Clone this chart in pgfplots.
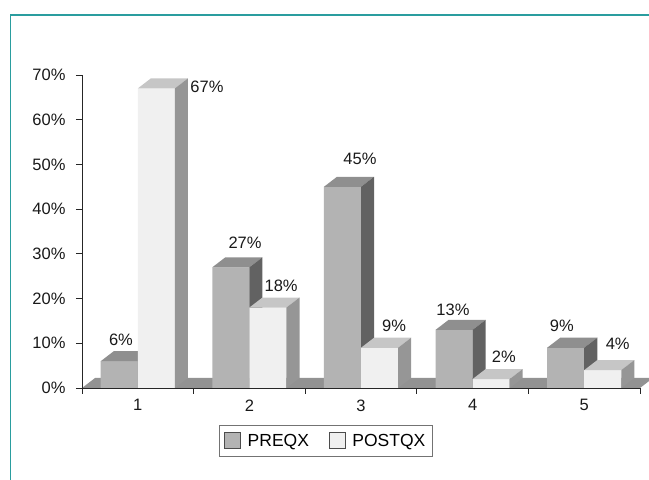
\documentclass[border=0pt]{standalone}
\usepackage{pgfplots}
\pgfplotsset{compat=1.18}
\usepackage{fontspec}
\setmainfont{Liberation Sans}
\definecolor{preFront}{HTML}{B3B3B3}
\definecolor{preTop}{HTML}{8F8F8F}
\definecolor{preSide}{HTML}{626262}
\definecolor{postFront}{HTML}{F0F0F0}
\definecolor{postTop}{HTML}{C6C6C6}
\definecolor{postSide}{HTML}{969696}
\definecolor{floorc}{HTML}{929292}
\definecolor{frame}{HTML}{2A9D9F}
\pgfplotsset{face/.style={forget plot, draw=none, mark=none}}
\newcommand{\lblfont}{\fontsize{16.5}{19}\selectfont}
\newcommand{\legfont}{\fontsize{17.5}{20}\selectfont}
\begin{document}
\begin{tikzpicture}
\useasboundingbox (0,0) rectangle (649pt,480pt);
\draw[frame, line width=1.5pt] (10.5pt,0) -- (10.5pt,465pt) -- (649pt,465pt);
\begin{axis}[
  at={(82pt,92pt)}, anchor=south west,
  scale only axis, width=558pt, height=313pt,
  xmin=-0.5, xmax=4.5, ymin=0, ymax=70,
  clip=false, axis on top=true,
  axis x line=bottom, axis y line=left,
  axis line style={-, black!85, line width=0.8pt},
  tick style={black!85, line width=0.8pt},
  tick align=outside, major tick length=6pt,
  xtick={-0.5,0.5,1.5,2.5,3.5,4.5},
  xticklabels={1,2,3,4,5},
  x tick label as interval,
  ytick={0,10,...,70},
  yticklabel={\pgfmathprintnumber{\tick}\%},
  /pgf/number format/assume math mode=true,
  tick label style={font=\lblfont, black!90},
  yticklabel style={xshift=-7pt},
  xticklabel style={yshift=-2pt},
  legend style={at={(axis description cs:0.437,-0.169)}, anchor=center,
    draw=black!55, line width=0.8pt, font=\legfont,
    inner xsep=5pt, inner ysep=7pt,
    /tikz/every even column/.append style={column sep=18pt}},
  legend columns=2,
]
% floor
\addplot[face, fill=floorc] coordinates {(-0.5,0) (4.5,0) (4.617,2.24) (-0.383,2.24)};

% PREQX
\addplot[ybar, bar width=0.332, bar shift=-0.166, fill=preFront, draw=none,
  legend image code/.code={\draw[fill=preFront, draw=black!70, line width=0.8pt] (0pt,-8pt) rectangle (16pt,8pt); \path (21pt,0pt);}]
  coordinates {(0,6) (1,27) (2,45) (3,13) (4,9)};
\addlegendentry{PREQX}
\addplot[face, fill=preTop] coordinates {(-0.332,6) (0,6) (0.117,8.24) (-0.215,8.24)};
\addplot[face, fill=preSide] coordinates {(0,0) (0.117,2.24) (0.117,8.24) (0,6)};
\addplot[face, fill=preTop] coordinates {(0.668,27) (1,27) (1.117,29.24) (0.785,29.24)};
\addplot[face, fill=preSide] coordinates {(1,0) (1.117,2.24) (1.117,29.24) (1,27)};
\addplot[face, fill=preTop] coordinates {(1.668,45) (2,45) (2.117,47.24) (1.785,47.24)};
\addplot[face, fill=preSide] coordinates {(2,0) (2.117,2.24) (2.117,47.24) (2,45)};
\addplot[face, fill=preTop] coordinates {(2.668,13) (3,13) (3.117,15.24) (2.785,15.24)};
\addplot[face, fill=preSide] coordinates {(3,0) (3.117,2.24) (3.117,15.24) (3,13)};
\addplot[face, fill=preTop] coordinates {(3.668,9) (4,9) (4.117,11.24) (3.785,11.24)};
\addplot[face, fill=preSide] coordinates {(4,0) (4.117,2.24) (4.117,11.24) (4,9)};

% POSTQX
\addplot[ybar, bar width=0.332, bar shift=0.166, fill=postFront, draw=none,
  legend image code/.code={\draw[fill=postFront, draw=black!70, line width=0.8pt] (0pt,-8pt) rectangle (16pt,8pt); \path (21pt,0pt);}]
  coordinates {(0,67) (1,18) (2,9) (3,2) (4,4)};
\addlegendentry{POSTQX}
\addplot[face, fill=postTop] coordinates {(0,67) (0.332,67) (0.449,69.24) (0.117,69.24)};
\addplot[face, fill=postSide] coordinates {(0.332,0) (0.449,2.24) (0.449,69.24) (0.332,67)};
\addplot[face, fill=postTop] coordinates {(1,18) (1.332,18) (1.449,20.24) (1.117,20.24)};
\addplot[face, fill=postSide] coordinates {(1.332,0) (1.449,2.24) (1.449,20.24) (1.332,18)};
\addplot[face, fill=postTop] coordinates {(2,9) (2.332,9) (2.449,11.24) (2.117,11.24)};
\addplot[face, fill=postSide] coordinates {(2.332,0) (2.449,2.24) (2.449,11.24) (2.332,9)};
\addplot[face, fill=postTop] coordinates {(3,2) (3.332,2) (3.449,4.24) (3.117,4.24)};
\addplot[face, fill=postSide] coordinates {(3.332,0) (3.449,2.24) (3.449,4.24) (3.332,2)};
\addplot[face, fill=postTop] coordinates {(4,4) (4.332,4) (4.449,6.24) (4.117,6.24)};
\addplot[face, fill=postSide] coordinates {(4.332,0) (4.449,2.24) (4.449,6.24) (4.332,4)};

% value labels
\begin{scope}[every node/.style={font=\lblfont, text=black!90, inner sep=0pt}]
\node at (axis cs:-0.151,10.7) {6\%};
\node at (axis cs:0.62,67.3) {67\%};
\node at (axis cs:0.961,32.4) {27\%};
\node at (axis cs:1.284,22.8) {18\%};
\node at (axis cs:1.991,51.2) {45\%};
\node at (axis cs:2.296,13.9) {9\%};
\node at (axis cs:2.824,17.4) {13\%};
\node at (axis cs:3.28,6.9) {2\%};
\node at (axis cs:3.80,13.9) {9\%};
\node at (axis cs:4.30,9.8) {4\%};
\end{scope}
\end{axis}
\end{tikzpicture}
\end{document}
